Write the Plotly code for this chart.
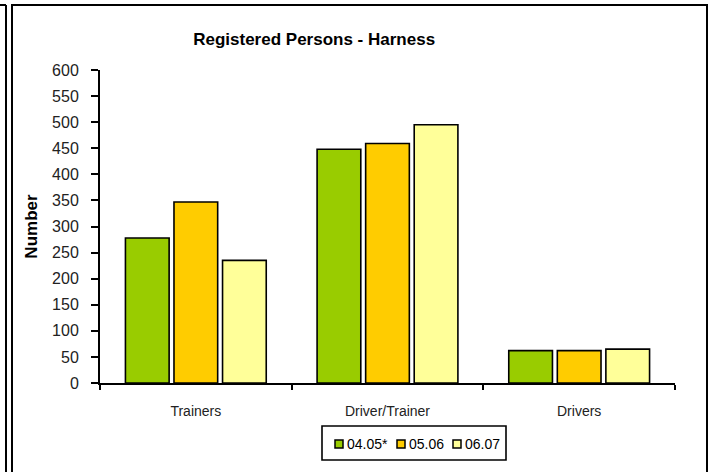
import plotly.graph_objects as go

categories = ["Trainers", "Driver/Trainer", "Drivers"]
series_names = ["04.05*", "05.06", "06.07"]
v_0405 = [278, 448, 62]
v_0506 = [347, 459, 62]
v_0607 = [235, 495, 65]
colors = ["#99CC00", "#FFCC00", "#FFFF99"]
y_ticks = list(range(0, 601, 50))

W, H = 714, 472
L, R, T, B = 100, 39, 70, 89
pw, ph = W - L - R, H - T - B

def px(x):
    return (x - L) / pw

def py(y):
    return (H - B - y) / ph

fig = go.Figure()
for name, vals, c in zip(series_names, [v_0405, v_0506, v_0607], colors):
    fig.add_trace(go.Bar(x=categories, y=vals, name=name, showlegend=False,
                         marker=dict(color=c, line=dict(color="black", width=1.6))))

reg = "Liberation Sans, Arial, sans-serif"
fig.update_layout(
    width=W, height=H,
    margin=dict(l=L, r=R, t=T, b=B),
    paper_bgcolor="white", plot_bgcolor="white",
    barmode="group", bargap=0.24, bargroupgap=0.1,
    font=dict(family=reg, size=13, color="#222"),
    title=dict(text="<b>Registered Persons - Harness</b>", x=px(353), xanchor="center",
               y=1 - 39 / H, yanchor="middle", font=dict(family=reg, size=17, color="black")),
    xaxis=dict(showline=True, linecolor="black", linewidth=2, ticks="outside", tickson="boundaries",
               ticklen=5, tickwidth=1.5, tickcolor="black", tickfont=dict(family=reg, size=14, color="#222"),
               showgrid=False, ticklabelstandoff=14),
    yaxis=dict(range=[0, 600], tickvals=y_ticks, showline=True, linecolor="black", linewidth=2,
               ticks="outside", ticklen=7, tickwidth=1.5, tickcolor="black", showgrid=False,
               zeroline=False, tickfont=dict(family=reg, size=16, color="#222"), ticklabelstandoff=9,
               title=dict(text="<b>Number</b>", font=dict(family=reg, size=17, color="black"), standoff=10)),
    showlegend=False,
)

# legend (box, swatches, labels)
fig.add_shape(type="rect", xref="paper", yref="paper", x0=px(322), x1=px(506), y0=py(460), y1=py(426),
              line=dict(color="black", width=1.6), fillcolor="white")
sw_x = [335, 397, 453]
for sx, name, c in zip(sw_x, series_names, colors):
    fig.add_shape(type="rect", xref="paper", yref="paper", x0=px(sx), x1=px(sx + 8), y0=py(448), y1=py(440),
                  line=dict(color="black", width=1.5), fillcolor=c)
    fig.add_annotation(xref="paper", yref="paper", x=px(sx + 10), y=py(444), text=name, showarrow=False,
                       xanchor="left", yanchor="middle", font=dict(family=reg, size=14, color="black"))

# outer frames
fig.add_shape(type="rect", xref="paper", yref="paper", x0=px(12), x1=px(707), y0=py(480), y1=py(5),
              line=dict(color="black", width=2), layer="below")
fig.add_shape(type="line", xref="paper", yref="paper", x0=px(6), x1=px(6), y0=py(480), y1=py(5),
              line=dict(color="black", width=2))
fig.add_shape(type="line", xref="paper", yref="paper", x0=px(-2), x1=px(6), y0=py(5), y1=py(5),
              line=dict(color="black", width=2))

fig.write_html("out.html", config={"displayModeBar": False},
               post_script="document.body.style.margin='0';document.body.style.overflow='hidden';")
